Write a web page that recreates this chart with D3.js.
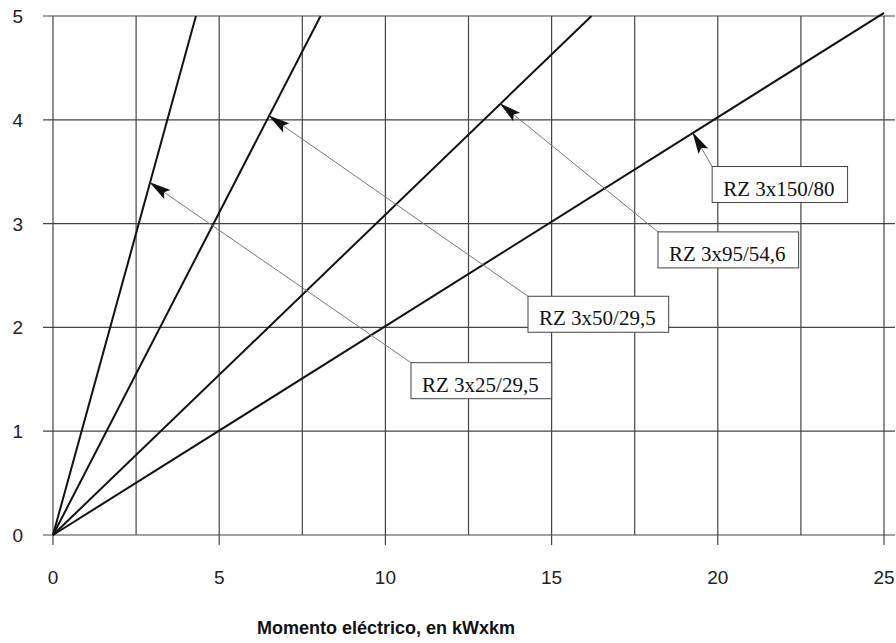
<!DOCTYPE html>
<html>
<head>
<meta charset="utf-8">
<script src="https://cdnjs.cloudflare.com/ajax/libs/d3/7.8.5/d3.min.js"></script>
<style>
  body { margin: 0; background: #fff; }
  svg { display: block; }
</style>
</head>
<body>
<div id="chart"></div>
<script>
// cable types and where each straight line reaches the top of the chart
var series = ["RZ 3x25/29,5", "RZ 3x50/29,5", "RZ 3x95/54,6", "RZ 3x150/80"];
var endX   = [4.3, 8.05, 16.2, 25.0];
var endY   = [5, 5, 5, 5.03];

// callouts: x where the arrow touches the line, and label box corner (data units)
var tipX   = [2.92, 6.5, 13.46, 19.25];
var boxX   = [10.77, 14.29, 18.2, 19.83];
var boxY   = [1.66, 2.30, 2.92, 3.55];

var xTicks = [0, 5, 10, 15, 20, 25];
var xGrid  = [0, 2.5, 5, 7.5, 10, 12.5, 15, 17.5, 20, 22.5, 25];
var yTicks = [0, 1, 2, 3, 4, 5];

var W = 896, H = 643;
var margin = {top: 16, right: 12, bottom: 108, left: 53};

var svg = d3.select("#chart").append("svg")
    .attr("width", W)
    .attr("height", H);

var x = d3.scaleLinear().domain([0, 25]).range([margin.left, W - margin.right]);
var y = d3.scaleLinear().domain([0, 5]).range([H - margin.bottom, margin.top]);

svg.append("defs").append("marker")
    .attr("id", "head")
    .attr("markerUnits", "userSpaceOnUse")
    .attr("viewBox", "0 0 22 12")
    .attr("refX", 21).attr("refY", 6)
    .attr("markerWidth", 22).attr("markerHeight", 12)
    .attr("orient", "auto")
  .append("path")
    .attr("d", "M0,0.5 L22,6 L0,11.5 L4,6 Z")
    .attr("fill", "#111");

// grid
var grid = svg.append("g");
grid.selectAll(".vg").data(xGrid).enter().append("line")
    .attr("x1", d => x(d)).attr("x2", d => x(d))
    .attr("y1", y(5))
    .attr("y2", d => xTicks.indexOf(d) >= 0 ? y(0) + 10 : y(0))
    .attr("stroke", "#444").attr("stroke-width", 1.2);
grid.selectAll(".hg").data(yTicks).enter().append("line")
    .attr("x1", x(0) - 10).attr("x2", x(25) + 11)
    .attr("y1", d => y(d)).attr("y2", d => y(d))
    .attr("stroke", "#444").attr("stroke-width", 1.2);

// tick labels
svg.selectAll(".xl").data(xTicks).enter().append("text")
    .attr("x", d => x(d)).attr("y", y(0) + 49)
    .attr("text-anchor", "middle")
    .attr("font-family", "Liberation Sans, Arial, sans-serif")
    .attr("font-size", 19).attr("fill", "#222")
    .text(d => d);
svg.selectAll(".yl").data(yTicks).enter().append("text")
    .attr("x", 23).attr("y", d => y(d) + 7)
    .attr("text-anchor", "end")
    .attr("font-family", "Liberation Sans, Arial, sans-serif")
    .attr("font-size", 19).attr("fill", "#222")
    .text(d => d);

svg.append("text")
    .attr("x", 386).attr("y", 634)
    .attr("text-anchor", "middle")
    .attr("font-family", "Liberation Sans, Arial, sans-serif")
    .attr("font-weight", "bold")
    .attr("font-size", 18).attr("fill", "#111")
    .text("Momento eléctrico, en kWxkm");

// the four lines
var line = d3.line().x(d => x(d[0])).y(d => y(d[1]));
svg.selectAll(".series").data(series).enter().append("path")
    .attr("d", (d, i) => line([[0, 0], [endX[i], endY[i]]]))
    .attr("fill", "none")
    .attr("stroke", "#111")
    .attr("stroke-width", 2);

// callouts
series.forEach(function(name, i) {
    var slope = endY[i] / endX[i];
    var tx = x(tipX[i]), ty = y(tipX[i] * slope);
    var bx = x(boxX[i]), by = y(boxY[i]);

    svg.append("line")
        .attr("x1", bx).attr("y1", by)
        .attr("x2", tx).attr("y2", ty)
        .attr("stroke", "#777").attr("stroke-width", 1)
        .attr("marker-end", "url(#head)");

    var g = svg.append("g");
    var rect = g.append("rect").attr("fill", "#fff")
        .attr("stroke", "#444").attr("stroke-width", 1);
    var t = g.append("text")
        .attr("x", bx + 11).attr("y", by + 29)
        .attr("font-family", "Liberation Serif, Times New Roman, serif")
        .attr("font-size", 21).attr("fill", "#111")
        .text(name);
    var bb = t.node().getBBox();
    rect.attr("x", bx).attr("y", by)
        .attr("width", bb.width + 24).attr("height", 36);
});
</script>
</body>
</html>
